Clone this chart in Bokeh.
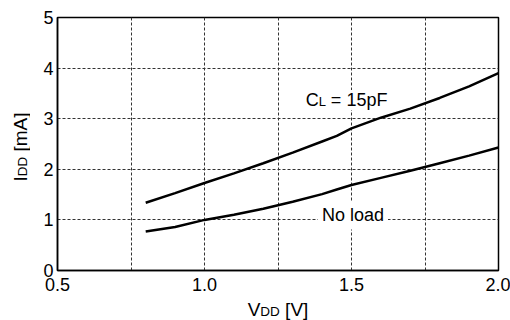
import math
from bokeh.plotting import figure
from bokeh.layouts import row, column
from bokeh.models import Label, FixedTicker, NumeralTickFormatter
from bokeh.embed import file_html
from bokeh.resources import INLINE

# ---- data ----
vdd = [0.8, 0.9, 1.0, 1.1, 1.2, 1.3, 1.4, 1.45, 1.5, 1.6, 1.7, 1.8, 1.9, 2.0]
idd_15pf = [1.34, 1.53, 1.73, 1.92, 2.12, 2.33, 2.55, 2.66, 2.81, 3.02, 3.20, 3.41, 3.64, 3.90]
idd_noload = [0.77, 0.86, 1.00, 1.10, 1.22, 1.36, 1.51, 1.60, 1.69, 1.83, 1.97, 2.12, 2.27, 2.43]
x_ticks = [0.5, 1.0, 1.5, 2.0]
y_ticks = [0, 1, 2, 3, 4, 5]
x_grid = [0.75, 1.0, 1.25, 1.5, 1.75]
y_grid = [1, 2, 3, 4]

FONT = "Liberation Sans"
MAIN = 18
SUB = 13
AX = 19
AXSUB = 13.5

# Arial/Liberation Sans advance widths (em)
W = {"I": 0.278, "D": 0.722, " ": 0.278, "[": 0.278, "]": 0.278, "m": 0.833,
     "A": 0.667, "V": 0.667, "C": 0.722, "L": 0.556, "=": 0.584, "F": 0.611}


def tw(s, size):
    return sum(W.get(c, 0.556) for c in s) * size


def mid_off(size):
    # distance from baseline up to the middle of the text box
    return 0.3465 * size


FRAME_W = 441
FRAME_H = 253
PX_PER_X = FRAME_W / 1.5
PX_PER_Y = FRAME_H / 5.0

p = figure(width=480, height=300, x_range=(0.5, 2.0), y_range=(0, 5),
           output_backend="svg", toolbar_location=None,
           min_border_left=27, min_border_right=12, min_border_top=17,
           min_border_bottom=30)
p.background_fill_color = "white"
p.border_fill_color = "white"
p.outline_line_color = "black"
p.outline_line_width = 1.5

for ax in (p.xaxis[0], p.yaxis[0]):
    ax.axis_line_color = "black"
    ax.axis_line_width = 1.5
    ax.major_tick_line_color = None
    ax.minor_tick_line_color = None
    ax.major_tick_in = 0
    ax.major_tick_out = 0
    ax.minor_tick_in = 0
    ax.minor_tick_out = 0
    ax.major_label_text_font = FONT
    ax.major_label_text_font_size = f"{MAIN}px"
    ax.major_label_text_color = "black"

p.xaxis[0].ticker = FixedTicker(ticks=x_ticks)
p.xaxis[0].formatter = NumeralTickFormatter(format="0.0")
p.xaxis[0].major_label_standoff = 7
p.yaxis[0].ticker = FixedTicker(ticks=y_ticks)
p.yaxis[0].major_label_standoff = 4

p.xgrid.ticker = FixedTicker(ticks=x_grid)
p.ygrid.ticker = FixedTicker(ticks=y_grid)
for g in (p.xgrid[0], p.ygrid[0]):
    g.grid_line_color = "#333333"
    g.grid_line_dash = "3 2"
    g.grid_line_width = 1

p.line(vdd, idd_15pf, line_color="black", line_width=2.5)
p.line(vdd, idd_noload, line_color="black", line_width=2.5)


def lab(fig, **kw):
    base = dict(text_font=FONT, text_color="black", text_baseline="middle",
                text_align="left")
    base.update(kw)
    fig.add_layout(Label(**base))


# in-plot label: C_L = 15pF  (common baseline in data units)
cx, cb = 1.344, 3.247
lab(p, x=cx, y=cb + mid_off(MAIN) / PX_PER_Y, text="C", text_font_size=f"{MAIN}px")
lab(p, x=cx + tw("C", MAIN) / PX_PER_X, y=cb + mid_off(SUB) / PX_PER_Y, text="L",
    text_font_size=f"{SUB}px")
lab(p, x=cx + (tw("C", MAIN) + tw("L", SUB) + tw(" ", MAIN)) / PX_PER_X,
    y=cb + mid_off(MAIN) / PX_PER_Y, text="= 15pF", text_font_size=f"{MAIN}px",
    background_fill_color="white")

# in-plot label: No load
lab(p, x=1.505, y=1.087, text="No load", text_font_size=f"{MAIN}px",
    text_align="center", background_fill_color="white", padding=4)


def blank(w, h):
    f = figure(width=w, height=h, x_range=(0, 1), y_range=(0, 1),
               output_backend="svg", toolbar_location=None,
               x_axis_type=None, y_axis_type=None,
               min_border=0, min_border_left=0, min_border_right=0,
               min_border_top=0, min_border_bottom=0)
    f.outline_line_color = None
    f.grid.visible = False
    f.background_fill_color = "white"
    f.border_fill_color = "white"
    return f


# x axis label V_DD [V] in a strip below (strip spans canvas y 300..320)
bx = blank(480, 20)
xw = tw("V", AX) + tw("DD", AXSUB) + tw(" [V]", AX)
fx0 = FRAME_W / 2 - xw / 2
xb = 320 - 316  # baseline, pixels above strip bottom
lab(bx, x=fx0, y=xb + mid_off(AX), x_units="screen", y_units="screen", text="V",
    text_font_size=f"{AX}px")
lab(bx, x=fx0 + tw("V", AX), y=xb + mid_off(AXSUB), x_units="screen",
    y_units="screen", text="DD", text_font_size=f"{AXSUB}px")
lab(bx, x=fx0 + tw("V", AX) + tw("DD", AXSUB) + tw(" ", AX), y=xb + mid_off(AX),
    x_units="screen", y_units="screen", text="[V]", text_font_size=f"{AX}px")

# y axis label I_DD [mA] in a strip at left (rotated), baseline at x = 26.5
ly = blank(30, 320)
yw = tw("I", AX) + tw("DD", AXSUB) + tw(" [mA]", AX)
ybase = 26.5
gy0 = (320 - 146.5) - yw / 2
ang = math.pi / 2
lab(ly, x=ybase - mid_off(AX), y=gy0, x_units="screen", y_units="screen", angle=ang,
    text="I", text_font_size=f"{AX}px")
lab(ly, x=ybase - mid_off(AXSUB), y=gy0 + tw("I", AX), x_units="screen",
    y_units="screen", angle=ang, text="DD", text_font_size=f"{AXSUB}px")
lab(ly, x=ybase - mid_off(AX), y=gy0 + tw("I", AX) + tw("DD", AXSUB) + tw(" ", AX),
    x_units="screen", y_units="screen", angle=ang, text="[mA]",
    text_font_size=f"{AX}px")

layout = row(ly, column(p, bx, spacing=0), spacing=0)
open("out.html", "w").write(file_html(layout, INLINE))
